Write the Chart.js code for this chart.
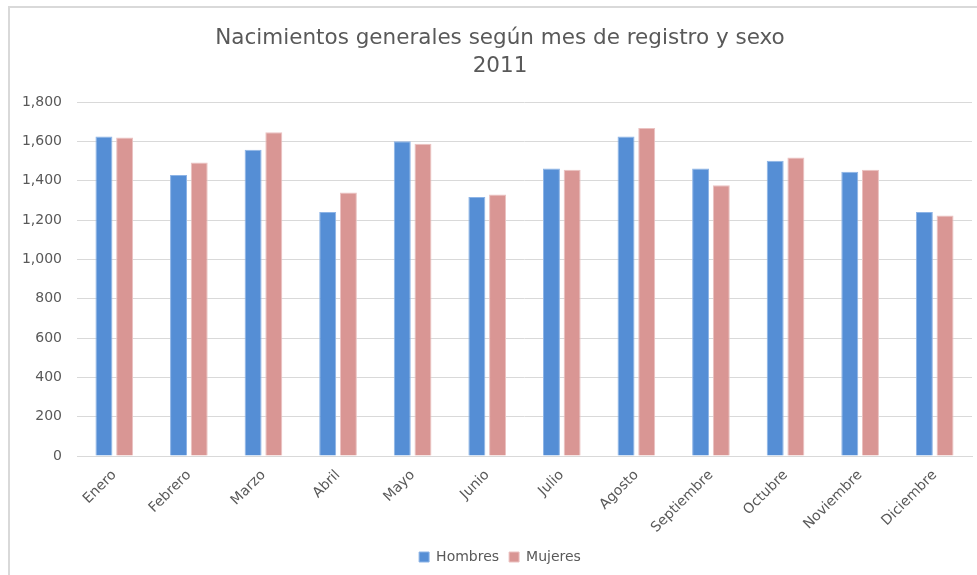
<!DOCTYPE html>
<html>
<head>
<meta charset="utf-8">
<script src="https://cdn.jsdelivr.net/npm/chart.js@4/dist/chart.umd.min.js"></script>
<style>
html,body{margin:0;padding:0;background:#fff;}
#wrap{position:relative;width:977px;height:575px;}
#frame{position:absolute;left:8px;top:6px;right:0;bottom:0;border-left:2px solid #D9D9D9;border-top:2px solid #D9D9D9;pointer-events:none;}
canvas{position:absolute;left:0;top:0;}
</style>
</head>
<body>
<div id="wrap">
<canvas id="c" width="977" height="575"></canvas>
<div id="frame"></div>
</div>
<script>
const months = ['Enero','Febrero','Marzo','Abril','Mayo','Junio','Julio','Agosto','Septiembre','Octubre','Noviembre','Diciembre'];
const hombres = [1625,1430,1558,1241,1601,1318,1463,1626,1463,1502,1446,1241];
const mujeres = [1620,1493,1647,1340,1589,1331,1456,1669,1377,1519,1456,1224];
const titleLines = ['Nacimientos generales según mes de registro y sexo','2011'];
const seriesNames = ['Hombres','Mujeres'];

const txt = '#595959';
const fam = "'DejaVu Sans', sans-serif";
const unclipY = {id: 'unclipY', afterLayout(chart) { chart.scales.y.left = 0; }};
new Chart(document.getElementById('c'), {
  type: 'bar',
  data: {
    labels: months,
    datasets: [
      {label: seriesNames[0], data: hombres, backgroundColor: '#558ED5', borderColor: '#8DB4E6', borderWidth: 1, barPercentage: 0.82, categoryPercentage: 0.555},
      {label: seriesNames[1], data: mujeres, backgroundColor: '#D99694', borderColor: '#EBC2C1', borderWidth: 1, barPercentage: 0.82, categoryPercentage: 0.555}
    ]
  },
  plugins: [unclipY],
  options: {
    responsive: false,
    animation: false,
    layout: {padding: {left: 28, right: 5, top: 0, bottom: 1}},
    plugins: {
      title: {display: true, text: titleLines, color: txt, font: {family: fam, size: 21.5, weight: 'normal', lineHeight: 1.33}, padding: {top: 24, bottom: 21}},
      legend: {position: 'bottom', labels: {color: txt, font: {family: fam, size: 14}, boxWidth: 10, boxHeight: 10, padding: 10}},
      tooltip: {enabled: false}
    },
    scales: {
      x: {
        afterFit: (s) => { s.height = 84; },
        grid: {display: false, drawTicks: false},
        border: {display: true, color: '#D9D9D9'},
        ticks: {color: txt, font: {family: fam, size: 14}, maxRotation: 45, minRotation: 45, padding: 11}
      },
      y: {
        min: 0, max: 1800,
        afterFit: (s) => { s.width = 49; },
        grid: {color: '#D9D9D9', drawTicks: false},
        border: {display: false},
        ticks: {stepSize: 200, color: txt, font: {family: fam, size: 14}, padding: 15,
          callback: (v) => v.toLocaleString('en-US')}
      }
    }
  }
});
</script>
</body>
</html>
